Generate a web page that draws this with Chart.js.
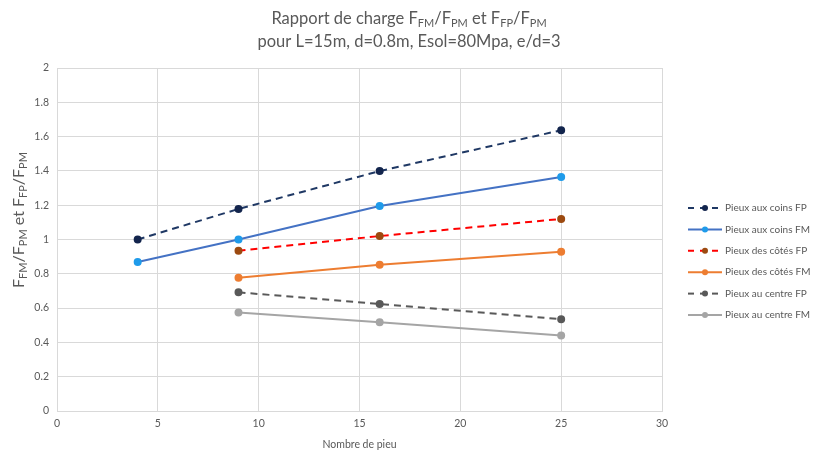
<!DOCTYPE html>
<html>
<head>
<meta charset="utf-8">
<script src="https://cdn.jsdelivr.net/npm/chart.js@4/dist/chart.umd.min.js"></script>
<style>
  html, body { margin: 0; padding: 0; background: #fff; }
  #wrap { width: 814px; height: 455px; }
</style>
</head>
<body>
<div id="wrap"><canvas id="chart" width="814" height="455"></canvas></div>
<script>
// data
const pilesAll = [4, 9, 16, 25];
const pilesSide = [9, 16, 25];
const coinsFP = [1.0, 1.178, 1.399, 1.637];
const coinsFM = [0.869, 1.0, 1.195, 1.364];
const cotesFP = [0.934, 1.02, 1.12];
const cotesFM = [0.777, 0.853, 0.928];
const centreFP = [0.692, 0.624, 0.535];
const centreFM = [0.574, 0.518, 0.44];
const seriesNames = ['Pieux aux coins FP', 'Pieux aux coins FM', 'Pieux des côtés FP',
  'Pieux des côtés FM', 'Pieux au centre FP', 'Pieux au centre FM'];

const FONT = 'Lato, "Open Sans", sans-serif';
const TXT = '#595959';

const pts = (xs, ys) => xs.map((x, i) => ({ x: x, y: ys[i] }));

function mkSet(name, xs, ys, line, point, dashed) {
  return {
    label: name,
    data: pts(xs, ys),
    borderColor: line,
    backgroundColor: point,
    pointBackgroundColor: point,
    pointBorderColor: point,
    borderWidth: 2,
    borderDash: dashed ? [7, 5] : [],
    pointRadius: 3,
    pointHoverRadius: 3,
    tension: 0
  };
}

// draws text with subscripts, centred on (cx, cy)
function richText(ctx, parts, cx, cy, size) {
  const subSize = Math.round(size * 0.68);
  let w = 0;
  parts.forEach(p => {
    ctx.font = (p.sub ? subSize : size) + 'px ' + FONT;
    p.w = ctx.measureText(p.t).width;
    w += p.w;
  });
  let x = cx - w / 2;
  ctx.textAlign = 'left';
  ctx.textBaseline = 'middle';
  parts.forEach(p => {
    ctx.font = (p.sub ? subSize : size) + 'px ' + FONT;
    ctx.fillText(p.t, x, cy + (p.sub ? size * 0.25 : 0));
    x += p.w;
  });
}

const ratioLabel = [
  { t: 'F' }, { t: 'FM', sub: true }, { t: '/F' }, { t: 'PM', sub: true },
  { t: ' et F' }, { t: 'FP', sub: true }, { t: '/F' }, { t: 'PM', sub: true }
];

const decorPlugin = {
  id: 'decor',
  afterDraw(chart) {
    const ctx = chart.ctx;
    ctx.save();
    ctx.fillStyle = TXT;
    // title
    richText(ctx, [
      { t: 'Rapport de charge F' }, { t: 'FM', sub: true }, { t: '/F' }, { t: 'PM', sub: true },
      { t: ' et F' }, { t: 'FP', sub: true }, { t: '/F' }, { t: 'PM', sub: true }
    ], 409, 19, 16.5);
    richText(ctx, [{ t: 'pour L=15m, d=0.8m, Esol=80Mpa, e/d=3' }], 409, 42, 16.5);
    // y axis title
    ctx.save();
    ctx.translate(19, 220);
    ctx.rotate(-Math.PI / 2);
    richText(ctx, ratioLabel, 0, 0, 16);
    ctx.restore();
    // legend
    chart.data.datasets.forEach((ds, i) => {
      const y = 208 + i * 21.4;
      ctx.strokeStyle = ds.borderColor;
      ctx.lineWidth = 2;
      ctx.setLineDash(ds.borderDash.length ? [6, 6] : []);
      ctx.beginPath();
      ctx.moveTo(688, y);
      ctx.lineTo(722, y);
      ctx.stroke();
      ctx.setLineDash([]);
      ctx.fillStyle = ds.pointBackgroundColor;
      ctx.beginPath();
      ctx.arc(705, y, 3, 0, Math.PI * 2);
      ctx.fill();
      ctx.fillStyle = TXT;
      ctx.font = '10px ' + FONT;
      ctx.textAlign = 'left';
      ctx.textBaseline = 'middle';
      ctx.fillText(ds.label, 725, y);
    });
    ctx.restore();
  }
};

new Chart(document.getElementById('chart'), {
  type: 'line',
  data: {
    datasets: [
      mkSet(seriesNames[0], pilesAll, coinsFP, '#1f3864', '#13254d', true),
      mkSet(seriesNames[1], pilesAll, coinsFM, '#4472c4', '#1f9bea', false),
      mkSet(seriesNames[2], pilesSide, cotesFP, '#ff0000', '#9c4a10', true),
      mkSet(seriesNames[3], pilesSide, cotesFM, '#ed7d31', '#ed7d31', false),
      mkSet(seriesNames[4], pilesSide, centreFP, '#595959', '#595959', true),
      mkSet(seriesNames[5], pilesSide, centreFM, '#a5a5a5', '#a5a5a5', false)
    ]
  },
  options: {
    responsive: false,
    animation: false,
    layout: { padding: { top: 68, right: 152, left: 0, bottom: 0 } },
    plugins: {
      legend: { display: false },
      title: { display: false },
      tooltip: { enabled: false }
    },
    scales: {
      x: {
        type: 'linear',
        min: 0, max: 30,
        ticks: { stepSize: 5, color: TXT, font: { family: FONT, size: 10.5 }, padding: 6, maxRotation: 0 },
        grid: { color: '#d9d9d9', drawTicks: false },
        border: { color: '#d9d9d9' },
        title: { display: true, text: 'Nombre de pieu', color: TXT, font: { family: FONT, size: 10.5 }, padding: { top: 7 } },
        afterFit: s => { s.height = 44; }
      },
      y: {
        min: 0, max: 2,
        ticks: { stepSize: 0.2, color: TXT, font: { family: FONT, size: 10.5 }, padding: 8,
          callback: v => Math.round(v * 10) / 10 },
        grid: { color: '#d9d9d9', drawTicks: false },
        border: { color: '#d9d9d9' },
        afterFit: s => { s.width = 57; }
      }
    }
  },
  plugins: [decorPlugin]
});
</script>
</body>
</html>
